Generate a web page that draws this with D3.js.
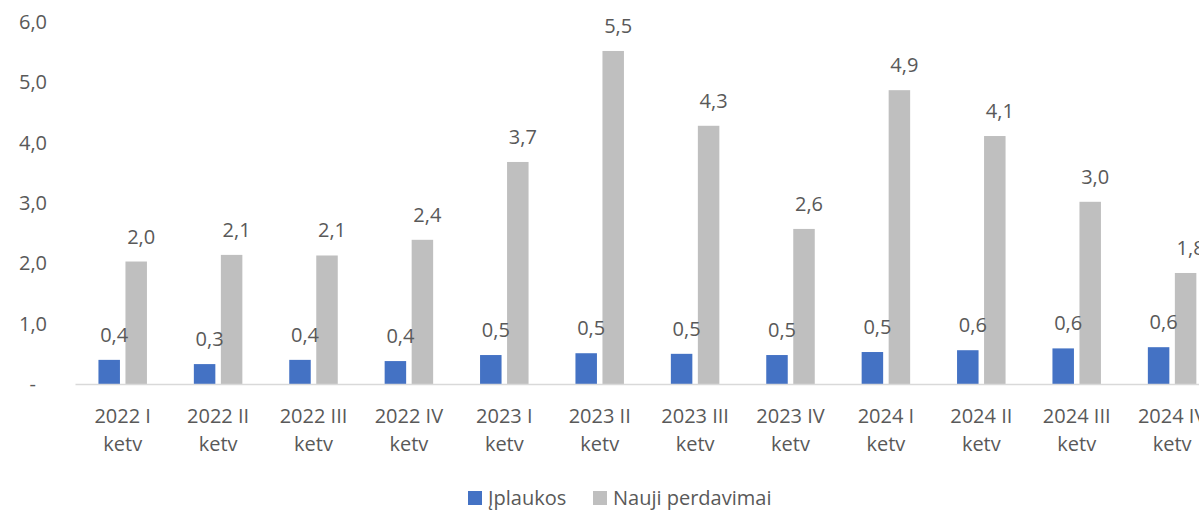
<!DOCTYPE html>
<html>
<head>
<meta charset="utf-8">
<script src="https://cdn.jsdelivr.net/npm/d3@7"></script>
<style>
  body { margin: 0; background: #fff; }
  svg text { font-family: "Open Sans", sans-serif; fill: #595959; }
</style>
</head>
<body>
<svg id="chart" width="1199" height="510"></svg>
<script>
const quarters = ["2022 I", "2022 II", "2022 III", "2022 IV", "2023 I", "2023 II",
                  "2023 III", "2023 IV", "2024 I", "2024 II", "2024 III", "2024 IV"];
const seriesNames = ["Įplaukos", "Nauji perdavimai"];
const inflows = [0.40, 0.33, 0.40, 0.38, 0.48, 0.51, 0.50, 0.48, 0.53, 0.56, 0.59, 0.61];
const transfers = [2.03, 2.14, 2.13, 2.39, 3.68, 5.52, 4.28, 2.57, 4.87, 4.11, 3.02, 1.84];
const yTicks = [0, 1, 2, 3, 4, 5, 6];
const colors = ["#4472C4", "#BFBFBF"];

const svg = d3.select("#chart");
const left = 75, step = 95.4;
const fmt = v => v === 0 ? "-" : d3.format(".1f")(v).replace(".", ",");

const x = d3.scaleBand()
    .domain(quarters)
    .range([left, left + step * quarters.length]);

const x1 = d3.scaleBand()
    .domain(seriesNames)
    .range([-24.25, 24.25])
    .paddingInner(0.204);

const y = d3.scaleLinear()
    .domain([0, 6])
    .range([384, 22]);

// y axis labels
const yAxis = svg.append("g")
    .attr("transform", `translate(${left - 28},0)`)
    .call(d3.axisLeft(y).tickValues(yTicks).tickSize(0).tickFormat(fmt));
yAxis.select(".domain").remove();
yAxis.selectAll("text")
    .attr("x", 0)
    .style("font-size", "20px")
    .attr("dx", d => d === 0 ? -11 : 0);

// bars
const data = quarters.map((q, i) => ({ q, values: [inflows[i], transfers[i]] }));

const groups = svg.selectAll(".grp")
    .data(data)
    .enter()
    .append("g")
    .attr("transform", d => `translate(${x(d.q) + x.bandwidth() / 2},0)`);

groups.selectAll("rect")
    .data(d => d.values.map((v, k) => ({ key: seriesNames[k], v, k })))
    .enter()
    .append("rect")
    .attr("x", d => x1(d.key))
    .attr("width", x1.bandwidth())
    .attr("y", d => y(d.v))
    .attr("height", d => y(0) - y(d.v))
    .attr("fill", d => colors[d.k]);

groups.selectAll(".lbl")
    .data(d => d.values.map((v, k) => ({ key: seriesNames[k], v, k })))
    .enter()
    .append("text")
    .attr("x", d => x1(d.key) + x1.bandwidth() / 2 + 5)
    .attr("y", d => y(d.v) - 18)
    .attr("text-anchor", "middle")
    .style("font-size", "20px")
    .text(d => fmt(Math.round(d.v * 10) / 10));

// x axis
const xAxis = svg.append("g")
    .attr("transform", `translate(0,${y(0)})`)
    .call(d3.axisBottom(x).tickSize(0).tickFormat(""));
xAxis.select(".domain").attr("stroke", "#D9D9D9").attr("stroke-width", 1.5);

xAxis.selectAll(".tick").each(function(d) {
    const t = d3.select(this).append("text")
        .attr("text-anchor", "middle")
        .style("font-size", "20px")
        .attr("fill", "#595959");
    t.append("tspan").attr("x", 0).attr("y", 39).text(d);
    t.append("tspan").attr("x", 0).attr("y", 67).text("ketv");
});

// legend
const legend = svg.append("g").attr("transform", "translate(468,491)");
const legendX = [0, 125];
seriesNames.forEach((name, i) => {
    legend.append("rect")
        .attr("x", legendX[i])
        .attr("y", 0)
        .attr("width", 14)
        .attr("height", 14)
        .attr("fill", colors[i]);
    legend.append("text")
        .attr("x", legendX[i] + 20)
        .attr("y", 14)
        .style("font-size", "20px")
        .text(name);
});
</script>
</body>
</html>
